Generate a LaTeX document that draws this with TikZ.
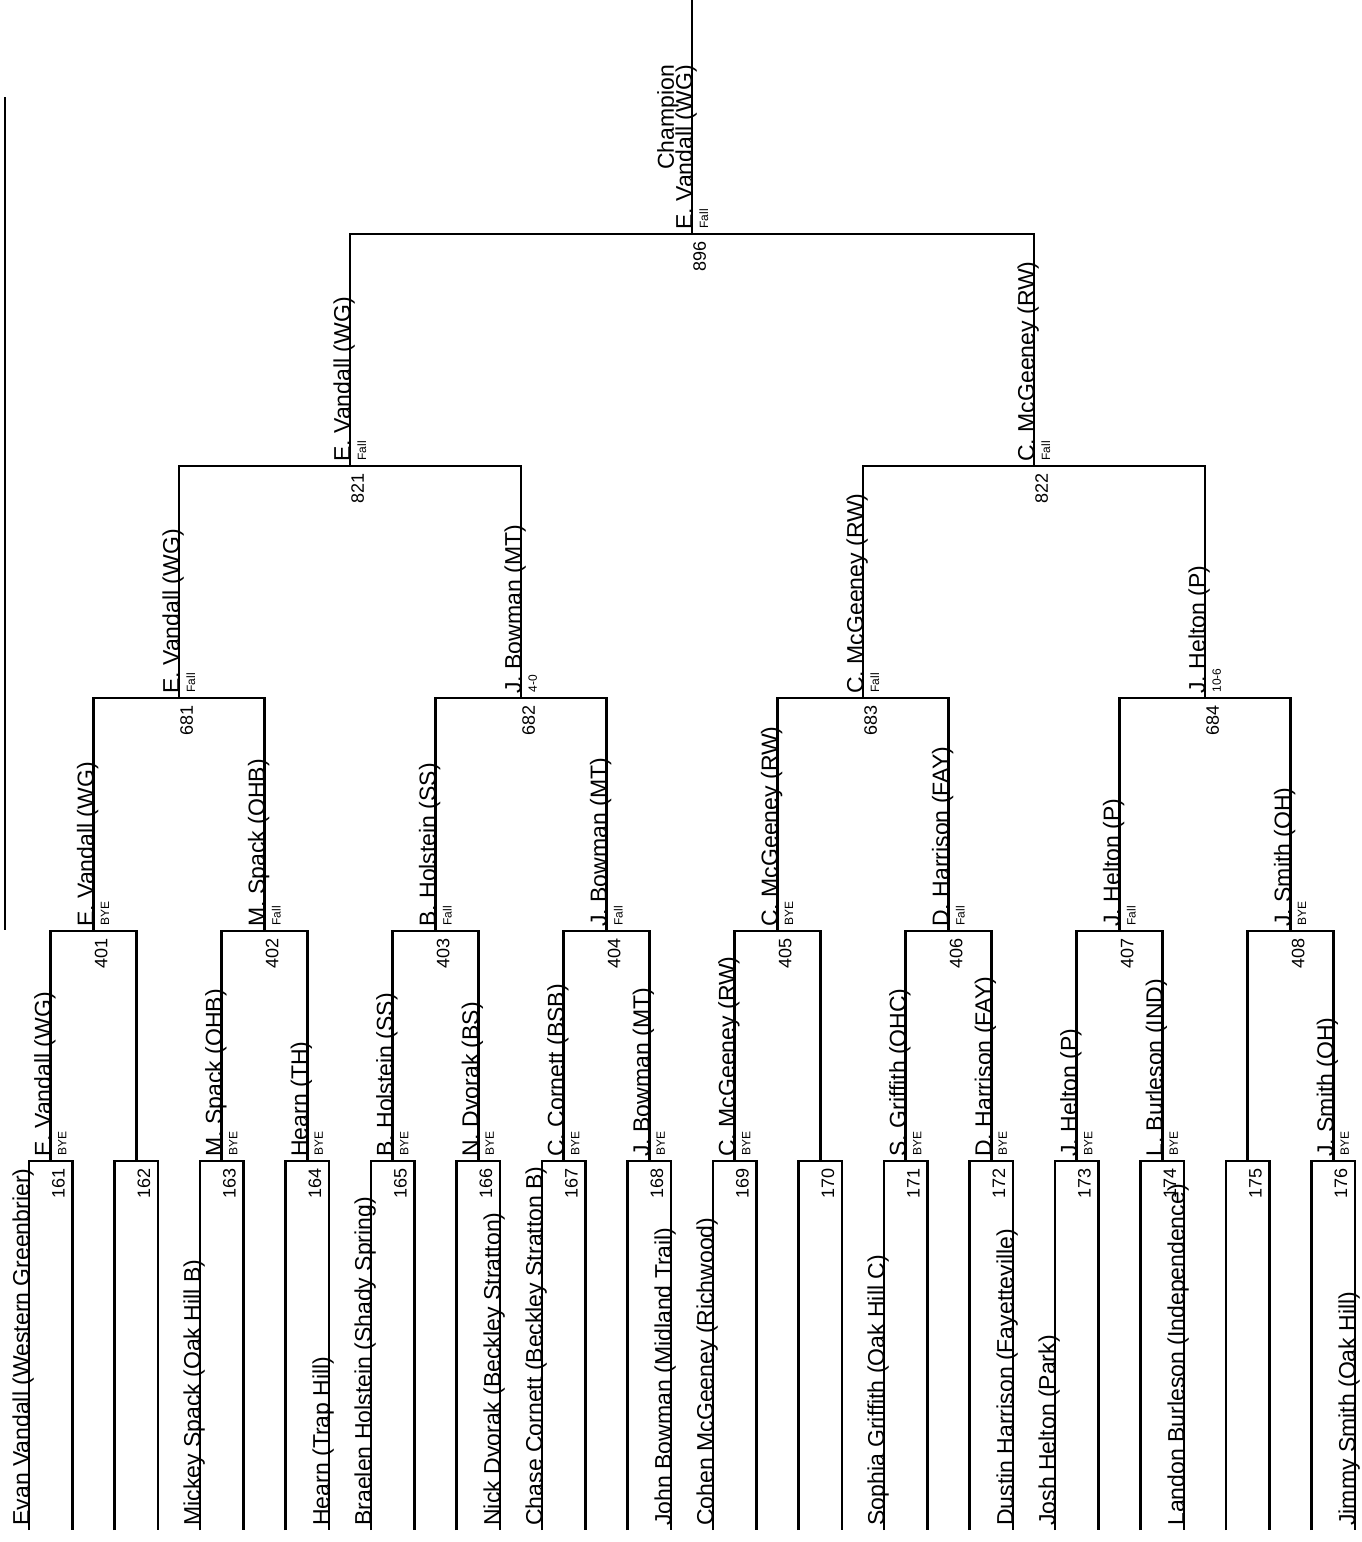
\documentclass[tikz,border=0pt]{standalone}
\usepackage{fontspec}
\setmainfont{Liberation Sans}

\begin{document}
\begin{tikzpicture}[x=0.5pt, y=-0.5pt, line width=1.4pt,
        bracket/.style={draw, line join=miter},
        entrant/.style={rotate=90, anchor=base west, inner xsep=1.5pt, inner ysep=0pt, font=\fontsize{11.5}{13}\selectfont},
        winner/.style={entrant},
        result/.style={rotate=90, anchor=north west, inner xsep=2pt, inner ysep=3pt, font=\fontsize{6}{7}\selectfont},
        matchno/.style={rotate=90, anchor=north east, inner xsep=3pt, inner ysep=0pt, font=\fontsize{9}{10}\selectfont}]
        \useasboundingbox (0,0) rectangle (1361,1542);

        % title underline (text runs off the page)
        \coordinate (t1) at (5,97);
        \coordinate (t2) at (5,930);
        \draw[line width=1pt] (t1) -- (t2);

        % first round lines
        \coordinate (a161) at (29,1530);     \coordinate (b161) at (72.5,1530);
        \coordinate (a162) at (114.5,1530);  \coordinate (b162) at (158,1530);
        \coordinate (a163) at (200,1530);    \coordinate (b163) at (243.5,1530);
        \coordinate (a164) at (285.5,1530);  \coordinate (b164) at (329,1530);
        \coordinate (a165) at (371,1530);    \coordinate (b165) at (414.5,1530);
        \coordinate (a166) at (456.5,1530);  \coordinate (b166) at (500,1530);
        \coordinate (a167) at (542,1530);    \coordinate (b167) at (585.5,1530);
        \coordinate (a168) at (627.5,1530);  \coordinate (b168) at (671,1530);
        \coordinate (a169) at (713,1530);    \coordinate (b169) at (756.5,1530);
        \coordinate (a170) at (798.5,1530);  \coordinate (b170) at (842,1530);
        \coordinate (a171) at (884,1530);    \coordinate (b171) at (927.5,1530);
        \coordinate (a172) at (969.5,1530);  \coordinate (b172) at (1013,1530);
        \coordinate (a173) at (1055,1530);   \coordinate (b173) at (1098.5,1530);
        \coordinate (a174) at (1140.5,1530); \coordinate (b174) at (1184,1530);
        \coordinate (a175) at (1226,1530);   \coordinate (b175) at (1269.5,1530);
        \coordinate (a176) at (1311.5,1530); \coordinate (b176) at (1355,1530);

        % match points
        \coordinate (m161) at (50.75,1161);  \coordinate (m162) at (136.25,1161);
        \coordinate (m163) at (221.75,1161); \coordinate (m164) at (307.25,1161);
        \coordinate (m165) at (392.75,1161); \coordinate (m166) at (478.25,1161);
        \coordinate (m167) at (563.75,1161); \coordinate (m168) at (649.25,1161);
        \coordinate (m169) at (734.75,1161); \coordinate (m170) at (820.25,1161);
        \coordinate (m171) at (905.75,1161); \coordinate (m172) at (991.25,1161);
        \coordinate (m173) at (1076.75,1161);\coordinate (m174) at (1162.25,1161);
        \coordinate (m175) at (1247.75,1161);\coordinate (m176) at (1333.25,1161);

        \coordinate (m401) at (93.5,931);    \coordinate (m402) at (264.5,931);
        \coordinate (m403) at (435.5,931);   \coordinate (m404) at (606.5,931);
        \coordinate (m405) at (777.5,931);   \coordinate (m406) at (948.5,931);
        \coordinate (m407) at (1119.5,931);  \coordinate (m408) at (1290.5,931);

        \coordinate (m681) at (179,698);     \coordinate (m682) at (521,698);
        \coordinate (m683) at (863,698);     \coordinate (m684) at (1205,698);

        \coordinate (m821) at (350,466);     \coordinate (m822) at (1034,466);

        \coordinate (m896) at (692,234);
        \coordinate (top) at (692,0);

        % bracket lines
        \draw[bracket] (a161) |- (m161) -| (b161);
        \draw[bracket] (a162) |- (m162) -| (b162);
        \draw[bracket] (a163) |- (m163) -| (b163);
        \draw[bracket] (a164) |- (m164) -| (b164);
        \draw[bracket] (a165) |- (m165) -| (b165);
        \draw[bracket] (a166) |- (m166) -| (b166);
        \draw[bracket] (a167) |- (m167) -| (b167);
        \draw[bracket] (a168) |- (m168) -| (b168);
        \draw[bracket] (a169) |- (m169) -| (b169);
        \draw[bracket] (a170) |- (m170) -| (b170);
        \draw[bracket] (a171) |- (m171) -| (b171);
        \draw[bracket] (a172) |- (m172) -| (b172);
        \draw[bracket] (a173) |- (m173) -| (b173);
        \draw[bracket] (a174) |- (m174) -| (b174);
        \draw[bracket] (a175) |- (m175) -| (b175);
        \draw[bracket] (a176) |- (m176) -| (b176);

        \draw[bracket] (m161) |- (m401) -| (m162);
        \draw[bracket] (m163) |- (m402) -| (m164);
        \draw[bracket] (m165) |- (m403) -| (m166);
        \draw[bracket] (m167) |- (m404) -| (m168);
        \draw[bracket] (m169) |- (m405) -| (m170);
        \draw[bracket] (m171) |- (m406) -| (m172);
        \draw[bracket] (m173) |- (m407) -| (m174);
        \draw[bracket] (m175) |- (m408) -| (m176);

        \draw[bracket] (m401) |- (m681) -| (m402);
        \draw[bracket] (m403) |- (m682) -| (m404);
        \draw[bracket] (m405) |- (m683) -| (m406);
        \draw[bracket] (m407) |- (m684) -| (m408);

        \draw[bracket] (m681) |- (m821) -| (m682);
        \draw[bracket] (m683) |- (m822) -| (m684);

        \draw[bracket] (m821) |- (m896) -| (m822);
        \draw[bracket] (m896) -- (top);

        % entrants
        \node[entrant] (e161) at (a161) {Evan Vandall (Western Greenbrier)};
        \node[entrant] (e163) at (a163) {Mickey Spack (Oak Hill B)};
        \node[entrant] (e164) at (b164) {Hearn (Trap Hill)};
        \node[entrant] (e165) at (a165) {Braelen Holstein (Shady Spring)};
        \node[entrant] (e166) at (b166) {Nick Dvorak (Beckley Stratton)};
        \node[entrant] (e167) at (a167) {Chase Cornett (Beckley Stratton B)};
        \node[entrant] (e168) at (b168) {John Bowman (Midland Trail)};
        \node[entrant] (e169) at (a169) {Cohen McGeeney (Richwood)};
        \node[entrant] (e171) at (a171) {Sophia Griffith (Oak Hill C)};
        \node[entrant] (e172) at (b172) {Dustin Harrison (Fayetteville)};
        \node[entrant] (e173) at (a173) {Josh Helton (Park)};
        \node[entrant] (e174) at (b174) {Landon Burleson (Independence)};
        \node[entrant] (e176) at (b176) {Jimmy Smith (Oak Hill)};

        % first round
        \node[winner] (w161) at (m161) {E. Vandall (WG)};   \node[result] (r161) at (m161) {BYE}; \node[matchno] (n161) at (m161) {161};
        \node[matchno] (n162) at (m162) {162};
        \node[winner] (w163) at (m163) {M. Spack (OHB)};    \node[result] (r163) at (m163) {BYE}; \node[matchno] (n163) at (m163) {163};
        \node[winner] (w164) at (m164) {Hearn (TH)};        \node[result] (r164) at (m164) {BYE}; \node[matchno] (n164) at (m164) {164};
        \node[winner] (w165) at (m165) {B. Holstein (SS)};  \node[result] (r165) at (m165) {BYE}; \node[matchno] (n165) at (m165) {165};
        \node[winner] (w166) at (m166) {N. Dvorak (BS)};    \node[result] (r166) at (m166) {BYE}; \node[matchno] (n166) at (m166) {166};
        \node[winner] (w167) at (m167) {C. Cornett (BSB)};  \node[result] (r167) at (m167) {BYE}; \node[matchno] (n167) at (m167) {167};
        \node[winner] (w168) at (m168) {J. Bowman (MT)};    \node[result] (r168) at (m168) {BYE}; \node[matchno] (n168) at (m168) {168};
        \node[winner] (w169) at (m169) {C. McGeeney (RW)};  \node[result] (r169) at (m169) {BYE}; \node[matchno] (n169) at (m169) {169};
        \node[matchno] (n170) at (m170) {170};
        \node[winner] (w171) at (m171) {S. Griffith (OHC)}; \node[result] (r171) at (m171) {BYE}; \node[matchno] (n171) at (m171) {171};
        \node[winner] (w172) at (m172) {D. Harrison (FAY)}; \node[result] (r172) at (m172) {BYE}; \node[matchno] (n172) at (m172) {172};
        \node[winner] (w173) at (m173) {J. Helton (P)};     \node[result] (r173) at (m173) {BYE}; \node[matchno] (n173) at (m173) {173};
        \node[winner] (w174) at (m174) {L. Burleson (IND)}; \node[result] (r174) at (m174) {BYE}; \node[matchno] (n174) at (m174) {174};
        \node[matchno] (n175) at (m175) {175};
        \node[winner] (w176) at (m176) {J. Smith (OH)};     \node[result] (r176) at (m176) {BYE}; \node[matchno] (n176) at (m176) {176};

        % second round
        \node[winner] (w401) at (m401) {E. Vandall (WG)};   \node[result] (r401) at (m401) {BYE};  \node[matchno] (n401) at (m401) {401};
        \node[winner] (w402) at (m402) {M. Spack (OHB)};    \node[result] (r402) at (m402) {Fall}; \node[matchno] (n402) at (m402) {402};
        \node[winner] (w403) at (m403) {B. Holstein (SS)};  \node[result] (r403) at (m403) {Fall}; \node[matchno] (n403) at (m403) {403};
        \node[winner] (w404) at (m404) {J. Bowman (MT)};    \node[result] (r404) at (m404) {Fall}; \node[matchno] (n404) at (m404) {404};
        \node[winner] (w405) at (m405) {C. McGeeney (RW)};  \node[result] (r405) at (m405) {BYE};  \node[matchno] (n405) at (m405) {405};
        \node[winner] (w406) at (m406) {D. Harrison (FAY)}; \node[result] (r406) at (m406) {Fall}; \node[matchno] (n406) at (m406) {406};
        \node[winner] (w407) at (m407) {J. Helton (P)};     \node[result] (r407) at (m407) {Fall}; \node[matchno] (n407) at (m407) {407};
        \node[winner] (w408) at (m408) {J. Smith (OH)};     \node[result] (r408) at (m408) {BYE};  \node[matchno] (n408) at (m408) {408};

        % quarter finals
        \node[winner] (w681) at (m681) {E. Vandall (WG)};   \node[result] (r681) at (m681) {Fall}; \node[matchno] (n681) at (m681) {681};
        \node[winner] (w682) at (m682) {J. Bowman (MT)};    \node[result] (r682) at (m682) {4-0};  \node[matchno] (n682) at (m682) {682};
        \node[winner] (w683) at (m683) {C. McGeeney (RW)};  \node[result] (r683) at (m683) {Fall}; \node[matchno] (n683) at (m683) {683};
        \node[winner] (w684) at (m684) {J. Helton (P)};     \node[result] (r684) at (m684) {10-6}; \node[matchno] (n684) at (m684) {684};

        % semi finals
        \node[winner] (w821) at (m821) {E. Vandall (WG)};   \node[result] (r821) at (m821) {Fall}; \node[matchno] (n821) at (m821) {821};
        \node[winner] (w822) at (m822) {C. McGeeney (RW)};  \node[result] (r822) at (m822) {Fall}; \node[matchno] (n822) at (m822) {822};

        % final
        \node[winner] (w896) at (m896) {E. Vandall (WG)};   \node[result] (r896) at (m896) {Fall}; \node[matchno] (n896) at (m896) {896};
        \node[winner, anchor=base east] (champ) at (w896.north east) {Champion};

    \end{tikzpicture}
\end{document}
